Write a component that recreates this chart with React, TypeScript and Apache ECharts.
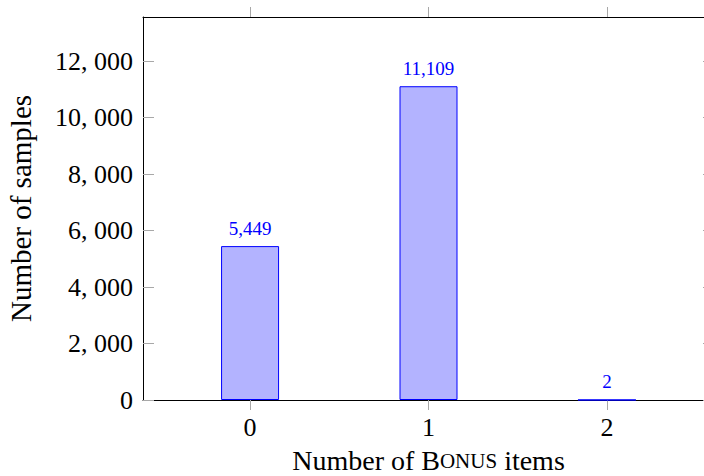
import React, { useEffect, useRef } from "react";
import * as echarts from "echarts";

const categories = [0, 1, 2];
const sampleCounts = [5449, 11109, 2];
const yTicks = [0, 2000, 4000, 6000, 8000, 10000, 12000];

const FONT = "'Liberation Serif', 'DejaVu Serif', serif";

function fmtTick(v: number): string {
  if (v < 1000) return String(v);
  const th = Math.floor(v / 1000);
  const rest = String(v % 1000).padStart(3, "0");
  return `${th}, ${rest}`;
}

function fmtLabel(v: number): string {
  return v.toLocaleString("en-US");
}

export default function App() {
  const ref = useRef<HTMLDivElement>(null);
  useEffect(() => {
    if (!ref.current) return;
    const chart = echarts.init(ref.current, undefined, { renderer: "svg" });
    const tickColor = "#a8a8a8";
    const xBase = {
      type: "value" as const,
      min: -0.6,
      max: 2.6,
      splitLine: { show: false },
      axisLine: { show: true, onZero: false, lineStyle: { color: "#000", width: 1 } },
    };
    const yBase = {
      type: "value" as const,
      min: 0,
      max: 13560,
      splitLine: { show: false },
      axisLine: { show: true, onZero: false, lineStyle: { color: "#000", width: 1 } },
      axisTick: {
        show: true,
        inside: true,
        length: 11,
        customValues: yTicks,
        lineStyle: { color: tickColor, width: 1 },
      },
    };
    chart.setOption({
      animation: false,
      backgroundColor: "#fff",
      grid: {
        left: 143,
        top: 17,
        right: -10,
        bottom: 76,
        containLabel: false,
        outerBoundsMode: "none",
      },
      xAxis: [
        {
          ...xBase,
          position: "bottom",
          axisTick: {
            show: true,
            inside: false,
            length: 10,
            customValues: categories,
            lineStyle: { color: tickColor, width: 1 },
          },
          axisLabel: {
            customValues: categories,
            margin: 14,
            fontFamily: FONT,
            fontSize: 26,
            color: "#000",
            formatter: (v: number) => String(Math.round(v)),
          },
          name: "Number of {b|B}{s|ONUS} items",
          nameLocation: "middle",
          nameGap: 47,
          nameTextStyle: {
            fontFamily: FONT,
            fontSize: 28,
            lineHeight: 27,
            color: "#000",
            rich: {
              b: { fontFamily: FONT, fontSize: 28, lineHeight: 27, color: "#000" },
              s: { fontFamily: FONT, fontSize: 21, lineHeight: 27, color: "#000" },
            },
          },
        },
        {
          ...xBase,
          position: "top",
          axisTick: {
            show: true,
            inside: false,
            length: 10,
            customValues: categories,
            lineStyle: { color: tickColor, width: 1 },
          },
          axisLabel: { show: false },
        },
      ],
      yAxis: [
        {
          ...yBase,
          position: "left",
          axisLabel: {
            customValues: yTicks,
            margin: 10,
            fontFamily: FONT,
            fontSize: 26,
            color: "#000",
            formatter: (v: number) => fmtTick(v),
          },
          name: "Number of samples",
          nameLocation: "middle",
          nameGap: 108,
          nameTextStyle: { fontFamily: FONT, fontSize: 29, color: "#000" },
        },
        {
          ...yBase,
          position: "right",
          axisLabel: { show: false },
        },
      ],
      series: [
        {
          type: "bar",
          xAxisIndex: 0,
          yAxisIndex: 0,
          barWidth: 58,
          data: categories.map((c, i) => [c, sampleCounts[i]]),
          itemStyle: { color: "#b3b3ff", borderColor: "#0000ff", borderWidth: 1 },
          label: {
            show: true,
            position: "top",
            distance: 8,
            fontFamily: FONT,
            fontSize: 19,
            color: "#0000ff",
            formatter: (p: any) => fmtLabel(p.value[1]),
          },
        },
      ],
    });
    return () => chart.dispose();
  }, []);
  return <div ref={ref} style={{ width: 704, height: 476, position: "absolute", left: 0, top: 0 }} />;
}
